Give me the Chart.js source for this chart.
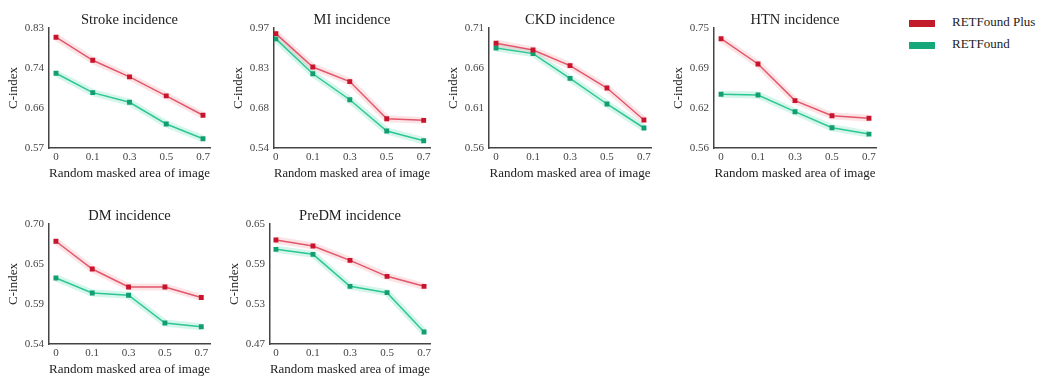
<!DOCTYPE html>
<html>
<head>
<meta charset="utf-8">
<script src="https://cdn.jsdelivr.net/npm/chart.js"></script>
<style>
  body { margin: 0; background: #fff; width: 1037px; height: 385px; position: relative; overflow: hidden; font-family: "Liberation Serif", serif; }
  canvas { position: absolute; }
  .legend { position: absolute; left: 909px; top: 12px; font-size: 13px; color: #222; }
  .legend div { height: 22px; line-height: 20px; white-space: nowrap; }
  .legend span { display: inline-block; width: 26px; height: 7px; margin-right: 17px; vertical-align: middle; }
</style>
</head>
<body>
<div class="legend">
  <div><span style="background:#c21a28"></span>RETFound Plus</div>
  <div><span style="background:#16a77a"></span>RETFound</div>
</div>
<script>
// masked area fractions on x
const xLabels = ['0', '0.1', '0.3', '0.5', '0.7'];
const titles = ['Stroke incidence', 'MI incidence', 'CKD incidence', 'HTN incidence', 'DM incidence', 'PreDM incidence'];
const yMin = [0.57, 0.54, 0.56, 0.56, 0.54, 0.47];
const yMax = [0.83, 0.97, 0.71, 0.75, 0.70, 0.65];

// C-index, RETFound Plus vs RETFound
const strokePlus = [0.810, 0.760, 0.724, 0.683, 0.641];
const strokeBase = [0.732, 0.690, 0.669, 0.622, 0.590];
const miPlus = [0.950, 0.830, 0.778, 0.645, 0.639];
const miBase = [0.931, 0.806, 0.713, 0.601, 0.566];
const ckdPlus = [0.691, 0.6825, 0.663, 0.635, 0.595];
const ckdBase = [0.685, 0.678, 0.647, 0.615, 0.585];
const htnPlus = [0.733, 0.693, 0.635, 0.611, 0.607];
const htnBase = [0.645, 0.644, 0.6175, 0.592, 0.582];
const dmPlus = [0.677, 0.640, 0.616, 0.616, 0.602];
const dmBase = [0.628, 0.608, 0.605, 0.568, 0.563];
const predmPlus = [0.626, 0.617, 0.5955, 0.5715, 0.5565];
const predmBase = [0.612, 0.6045, 0.5565, 0.547, 0.488];

const plusSeries = [strokePlus, miPlus, ckdPlus, htnPlus, dmPlus, predmPlus];
const baseSeries = [strokeBase, miBase, ckdBase, htnBase, dmBase, predmBase];

// panel placement (axis x, canvas top, plot width, x padding in category units)
const panels = [
  { axisX: 49,  top: 0,   w: 161, padL: 0.19, padR: 0.19 },
  { axisX: 274, top: 0,   w: 156, padL: 0.05, padR: 0.17 },
  { axisX: 489, top: 0,   w: 162, padL: 0.19, padR: 0.19 },
  { axisX: 714, top: 0,   w: 162, padL: 0.19, padR: 0.19 },
  { axisX: 49,  top: 196, w: 161, padL: 0.19, padR: 0.24 },
  { axisX: 270, top: 196, w: 160, padL: 0.16, padR: 0.16 }
];

const FONT = 'Liberation Serif';
const YW = 48, TOP = 28, PLOT_H = 120, XH = 40, RIGHT = 10;

function toPts(arr) {
  return arr.map((v, i) => ({ x: i, y: v }));
}

// panel title centred over the plot area, not the whole canvas
const plotTitle = {
  id: 'plotTitle',
  afterDraw(chart, args, opts) {
    const ctx = chart.ctx, a = chart.chartArea;
    ctx.save();
    ctx.font = '14.5px "' + FONT + '"';
    ctx.fillStyle = '#222';
    ctx.textAlign = 'center';
    ctx.textBaseline = 'alphabetic';
    ctx.fillText(opts.text, (a.left + a.right) / 2, 23.5);
    ctx.restore();
  }
};

panels.forEach((p, k) => {
  const cv = document.createElement('canvas');
  cv.width = YW + p.w + RIGHT;
  cv.height = TOP + PLOT_H + XH;
  cv.style.left = (p.axisX - YW) + 'px';
  cv.style.top = p.top + 'px';
  document.body.appendChild(cv);

  const line = (data, color, mark) => ({
    data: toPts(data), borderColor: color, borderWidth: 1.5,
    pointStyle: 'rect', pointRadius: 2.4, pointBackgroundColor: mark, pointBorderColor: mark,
    fill: false, tension: 0
  });
  const band = (data, color) => ({
    data: toPts(data), borderColor: color, borderWidth: 7, pointRadius: 0, fill: false, tension: 0
  });

  new Chart(cv.getContext('2d'), {
    type: 'line',
    data: {
      datasets: [
        line(plusSeries[k], '#e2566a', '#c8142c'),
        line(baseSeries[k], '#2dc796', '#139e72'),
        band(plusSeries[k], 'rgba(240,130,140,0.22)'),
        band(baseSeries[k], 'rgba(70,210,165,0.22)')
      ]
    },
    plugins: [plotTitle],
    options: {
      responsive: false,
      animation: false,
      devicePixelRatio: 1,
      layout: { padding: { left: 0, right: RIGHT, top: TOP, bottom: 0 } },
      plugins: {
        legend: { display: false },
        tooltip: { enabled: false },
        plotTitle: { text: titles[k] }
      },
      scales: {
        x: {
          type: 'linear', min: -p.padL, max: 4 + p.padR,
          grid: { display: false, drawTicks: false },
          border: { display: true, color: '#444', width: 1.5 },
          afterBuildTicks: s => { s.ticks = xLabels.map((_, i) => ({ value: i })); },
          afterFit: s => { s.height = XH; },
          ticks: {
            callback: v => xLabels[v], color: '#444', padding: 3, maxRotation: 0,
            font: { family: FONT, size: 11 }
          },
          title: {
            display: true, text: 'Random masked area of image', color: '#222',
            font: { family: FONT, size: 13, lineHeight: 1.2 },
            padding: { top: 0, bottom: 7 }
          }
        },
        y: {
          type: 'linear', min: yMin[k], max: yMax[k],
          grid: { display: false, drawTicks: false },
          border: { display: true, color: '#444', width: 1.5 },
          afterBuildTicks: s => {
            const lo = yMin[k], hi = yMax[k];
            s.ticks = [0, 1, 2, 3].map(i => ({ value: lo + i * (hi - lo) / 3 }));
          },
          afterFit: s => { s.width = YW; },
          ticks: {
            callback: v => v.toFixed(2), color: '#444', padding: 5,
            font: { family: FONT, size: 11 }
          },
          title: {
            display: true, text: 'C-index', color: '#222',
            font: { family: FONT, size: 13, lineHeight: 1.2 },
            padding: { top: 5, bottom: 0 }
          }
        }
      }
    }
  });
});
</script>
</body>
</html>
